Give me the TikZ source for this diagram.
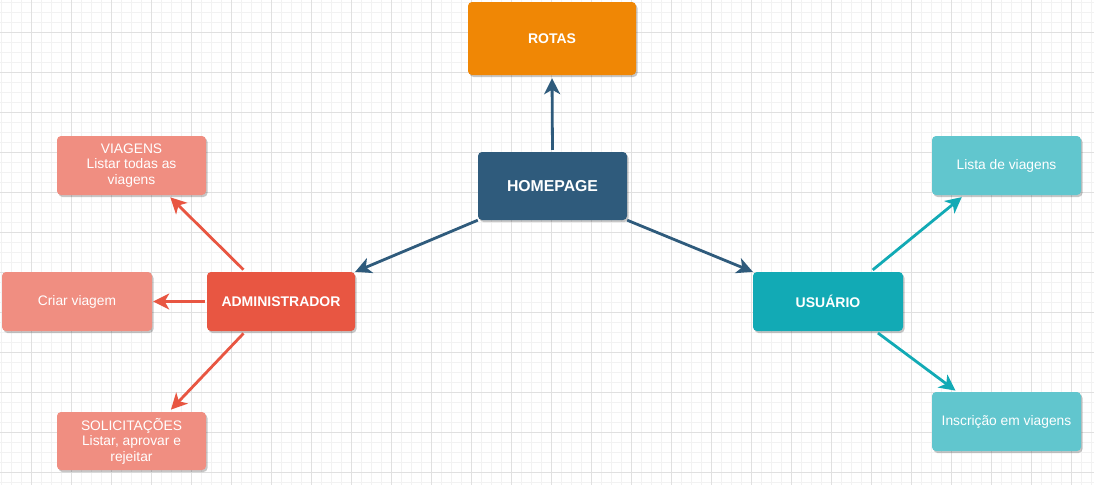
\documentclass[tikz,border=0pt]{standalone}
\usepackage{fontspec}
\setmainfont{Liberation Sans}
\usetikzlibrary{arrows.meta,shadows,calc}
\definecolor{rotasor}{HTML}{F08705}
\definecolor{homeblue}{HTML}{2F5B7C}
\definecolor{adminred}{HTML}{E85642}
\definecolor{adminlight}{HTML}{F08E81}
\definecolor{userteal}{HTML}{12AAB5}
\definecolor{userlight}{HTML}{61C6CE}
\tikzset{
	box/.style={rectangle,rounded corners=4pt,draw=none,text=white,align=center,
		font=\fontsize{13.8}{15.5}\selectfont,
		drop shadow={shadow xshift=1.5pt,shadow yshift=-2pt,fill=black,opacity=0.22}},
	mainbox/.style={box,font=\fontsize{14}{15.5}\selectfont\bfseries},
	link/.style={line width=2.8pt,-{Stealth[length=16pt,width=16pt,inset=4.5pt]}},
	minorline/.style={draw=black!5,line width=0.6pt},
	majorline/.style={draw=black!12,line width=0.7pt}
}

\begin{document}
\begin{tikzpicture}[x=1pt,y=-1pt]
					\useasboundingbox (0,0) rectangle (1094,485);
					\fill[white] (0,0) rectangle (1094,485);
					%GRID
					\foreach \x in {1.5,11.5,...,1091.5} \draw[minorline] (\x,0) -- (\x,485);
					\foreach \y in {2,12,...,482} \draw[minorline] (0,\y) -- (1094,\y);
					\foreach \x in {31.5,71.5,...,1071.5} \draw[majorline] (\x,0) -- (\x,485);
					\foreach \y in {32,72,...,472} \draw[majorline] (0,\y) -- (1094,\y);
					%BOXES
					\node[mainbox,fill=rotasor,minimum width=168pt,minimum height=73pt] (rotas) at (552,38.5) {ROTAS};
					\node[mainbox,fill=homeblue,minimum width=149pt,minimum height=68pt,font=\fontsize{15.8}{17}\selectfont\bfseries] (home) at (552.5,186) {HOMEPAGE};
					\node[mainbox,fill=adminred,minimum width=148pt,minimum height=59pt] (admin) at (281,301.5) {ADMINISTRADOR};
					\node[box,fill=adminlight,minimum width=149pt,minimum height=59pt] (viagens) at (131.5,165.5) {VIAGENS\\Listar todas as\\viagens};
					\node[box,fill=adminlight,minimum width=150pt,minimum height=59pt] (criar) at (77,301.5) {Criar viagem};
					\node[box,fill=adminlight,minimum width=149pt,minimum height=58pt] (solic) at (131.5,441) {SOLICITAÇÕES\\Listar, aprovar e\\rejeitar};
					\node[mainbox,fill=userteal,minimum width=150pt,minimum height=59pt] (usuario) at (828,301.5) {USUÁRIO};
					\node[box,fill=userlight,minimum width=149pt,minimum height=59pt] (lista) at (1006.5,165.5) {Lista de viagens};
					\node[box,fill=userlight,minimum width=149pt,minimum height=59pt] (inscr) at (1006.5,421.5) {Inscrição em viagens};
					%ARROWS
					\draw[link,homeblue,shorten <=2pt,shorten >=3pt] (home.north) -- (rotas.south);
					\draw[link,homeblue] (home.south west) -- (admin.north east);
					\draw[link,homeblue] (home.south east) -- (usuario.north west);
					\draw[link,adminred,shorten <=3pt,shorten >=3pt] (admin.140) -- (viagens.-39);
					\draw[link,adminred,shorten <=2pt,shorten >=1pt] (admin.west) -- (criar.east);
					\draw[link,adminred,shorten <=3pt,shorten >=3pt] (admin.-140) -- (solic.38);
					\draw[link,userteal,shorten <=3pt,shorten >=3pt] (usuario.35) -- (lista.215);
					\draw[link,userteal,shorten <=3pt,shorten >=2pt] (usuario.-32) -- (inscr.149);
\end{tikzpicture}
\end{document}
